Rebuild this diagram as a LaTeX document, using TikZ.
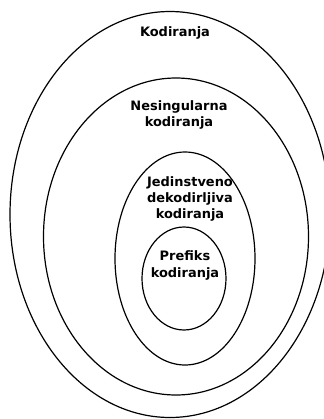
\documentclass[tikz,border=0pt]{standalone}
\usepackage{fontspec}
\setmainfont{DejaVu Sans}
\usepackage{tikz}
\usetikzlibrary{positioning}
\tikzstyle{diagram} = [x = 1bp, y = -1bp]
\tikzstyle{setLine} = [color=black, line width=1.2bp]
\tikzstyle{setText} = [font=\fontsize{13}{16.5}\selectfont\bfseries, align=center, inner sep=0pt]
\newcommand{\codeSet}[4]{\draw [setLine] (#1, #2) ellipse [x radius = #3, y radius = #4];}

\begin{document}
\begin{tikzpicture}[diagram]
            \useasboundingbox (0,0) rectangle (324,419);
            \codeSet{170}{214.5}{160}{203}
            \codeSet{176}{236.5}{132.5}{158.5}
            \codeSet{185}{258.5}{70}{106.5}
            \codeSet{184}{278.5}{42}{51.5}

            \node [setText] (all) at (175,33) {Kodiranja};
            \node [setText] (nonsingular) at (179,115) {Nesingularna\\kodiranja};
            \node [setText] (unique) at (190,199) {Jedinstveno\\dekodirljiva\\kodiranja};
            \node [setText] (prefix) at (185,265.5) {Prefiks\\kodiranja};
          \end{tikzpicture}
\end{document}
